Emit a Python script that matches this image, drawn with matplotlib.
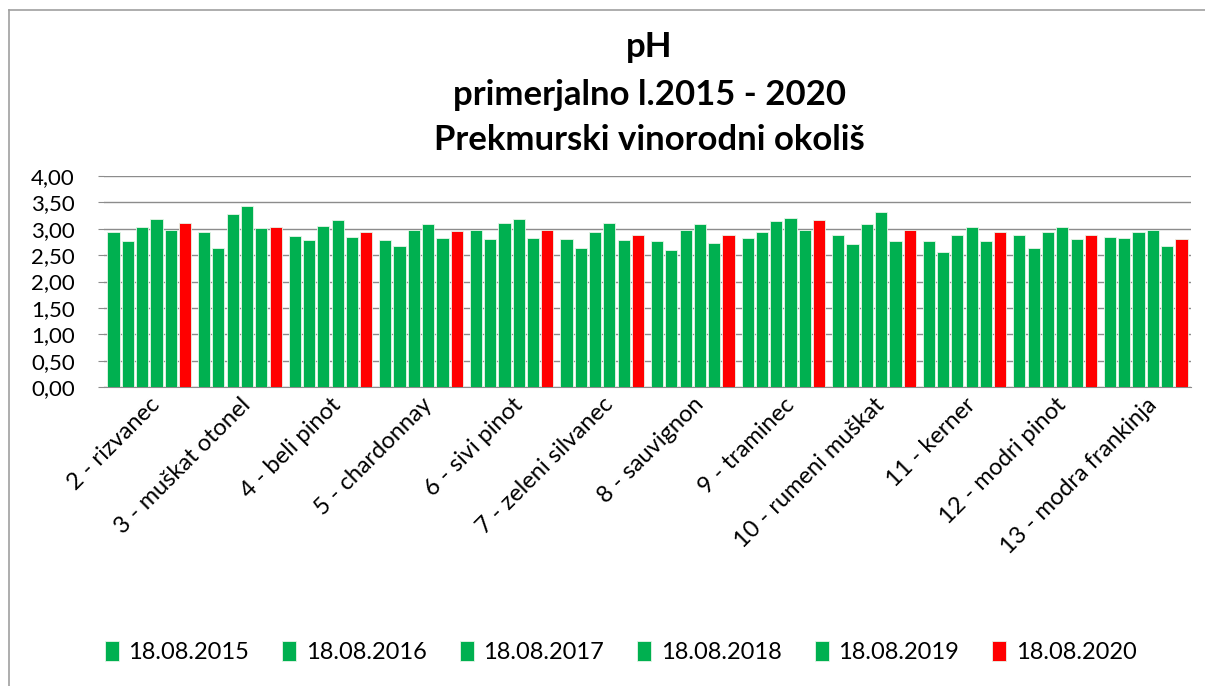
import matplotlib.pyplot as plt
import numpy as np
from matplotlib.lines import Line2D

plt.rcParams['font.family'] = ['Lato', 'DejaVu Sans']

categories = ["2 - rizvanec", "3 - muškat otonel", "4 - beli pinot", "5 - chardonnay",
              "6 - sivi pinot", "7 - zeleni silvanec", "8 - sauvignon", "9 - traminec",
              "10 - rumeni muškat", "11 - kerner", "12 - modri pinot", "13 - modra frankinja"]
series = ["18.08.2015", "18.08.2016", "18.08.2017", "18.08.2018", "18.08.2019", "18.08.2020"]

ph_2015 = [2.93, 2.94, 2.87, 2.78, 2.97, 2.80, 2.76, 2.83, 2.88, 2.76, 2.89, 2.85]
ph_2016 = [2.76, 2.63, 2.78, 2.68, 2.80, 2.63, 2.59, 2.93, 2.71, 2.56, 2.63, 2.83]
ph_2017 = [3.04, 3.28, 3.06, 2.97, 3.11, 2.94, 2.97, 3.14, 3.09, 2.89, 2.93, 2.93]
ph_2018 = [3.19, 3.43, 3.16, 3.09, 3.19, 3.11, 3.09, 3.21, 3.31, 3.04, 3.04, 2.97]
ph_2019 = [2.97, 3.01, 2.85, 2.83, 2.83, 2.78, 2.73, 2.97, 2.76, 2.76, 2.80, 2.68]
ph_2020 = [3.11, 3.04, 2.94, 2.95, 2.97, 2.88, 2.89, 3.16, 2.97, 2.93, 2.88, 2.80]
values = [ph_2015, ph_2016, ph_2017, ph_2018, ph_2019, ph_2020]
colors = ['#00B050'] * 5 + ['#FF0000']

fig = plt.figure(figsize=(12.05, 6.86), dpi=100)
ax = fig.add_axes([104/1205, 1-387/686, (1191-104)/1205, (387-176)/686])

x = np.arange(len(categories))
step = 0.158
for i, (vals, c, lab) in enumerate(zip(values, colors, series)):
    ax.bar(x + (i-2.5)*step, vals, width=step*0.85, color=c,
           edgecolor='#e8f5e8', linewidth=0.6, label=lab, zorder=3)

ax.set_xlim(-0.5, len(categories)-0.5)
ax.set_ylim(0, 4)
ax.set_yticks(np.arange(0, 4.01, 0.5))
ax.set_yticklabels([f"{v:.2f}".replace('.', ',') for v in np.arange(0, 4.01, 0.5)], fontsize=16)
ax.yaxis.grid(True, color='#8c8c8c', linewidth=1, zorder=0)
ax.tick_params(axis='y', length=4, color='#8c8c8c', pad=17)
ax.tick_params(axis='x', length=0, pad=5)
ax.set_xticks(x)
ax.set_xticklabels(categories, rotation=45, ha='right', va='top', rotation_mode='anchor', fontsize=17)
for s in ['top', 'right', 'left']:
    ax.spines[s].set_visible(False)
ax.spines['bottom'].set_color('#8c8c8c')

fig.text(0.539, 1-47/686, "pH", ha='center', va='center', fontsize=25, fontweight='bold')
fig.text(0.539, 1-95/686, "primerjalno l.2015 - 2020", ha='center', va='center', fontsize=25, fontweight='bold')
fig.text(0.539, 1-140/686, "Prekmurski vinorodni okoliš", ha='center', va='center', fontsize=25, fontweight='bold')

fig.legend(loc='center', bbox_to_anchor=(0.515, 1-652/686), ncol=6, frameon=False, fontsize=17,
           handlelength=0.6, handleheight=0.9, handletextpad=0.4, columnspacing=1.4)

fig.add_artist(Line2D([9/1205, 9/1205], [0, 1-10/686], color='#a0a0a0', linewidth=1.2))
fig.add_artist(Line2D([9/1205, 1], [1-10/686, 1-10/686], color='#a0a0a0', linewidth=1.2))

fig.savefig("out.png", dpi=100)
